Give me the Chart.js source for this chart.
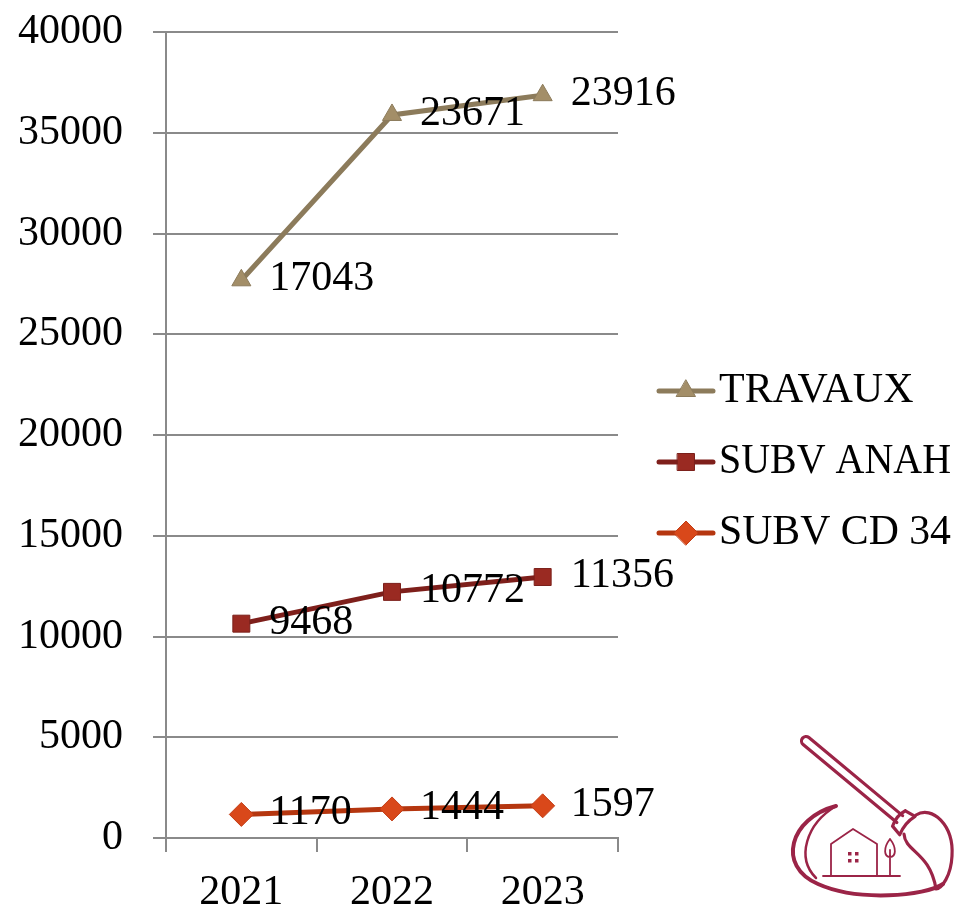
<!DOCTYPE html>
<html>
<head>
<meta charset="utf-8">
<script src="https://cdn.jsdelivr.net/npm/chart.js@4/dist/chart.umd.min.js"></script>
<style>
html,body{margin:0;padding:0;background:#fff;}
#wrap{width:957px;height:907px;}
</style>
</head>
<body>
<div id="wrap"><canvas id="c" width="957" height="907"></canvas></div>
<script>
// ---- data ----
const categories = ['2021', '2022', '2023'];
const seriesNames = ['SUBV CD 34', 'SUBV ANAH', 'TRAVAUX'];
const subvCd34 = [1170, 1444, 1597];
const subvAnah = [9468, 10772, 11356];
const travaux = [17043, 23671, 23916];
const yMin = 0, yMax = 40000, yStep = 5000;

const FONT = "'Liberation Serif', 'Times New Roman', serif";

const styles = [
  {line:'#b5360f', fill:'#d9481a', border:'#c23d16', point:'rectRot', r:12},
  {line:'#7e1f1b', fill:'#9a2a22', border:'#7b201b', point:'rect', r:12},
  {line:'#8c7b5b', fill:'#a38e68', border:'#8c7b5b', point:'triangle', r:11}
];
const values = [subvCd34, subvAnah, travaux];

const datasets = values.map((v, i) => ({
  label: seriesNames[i],
  data: v,
  borderColor: styles[i].line,
  borderWidth: 5,
  backgroundColor: styles[i].fill,
  pointStyle: styles[i].point,
  pointRadius: styles[i].r,
  pointHoverRadius: styles[i].r,
  pointBackgroundColor: styles[i].fill,
  pointBorderColor: styles[i].border,
  pointBorderWidth: 1,
  fill: false,
  tension: 0
}));

const valueLabels = {
  id: 'valueLabels',
  afterDatasetsDraw(chart) {
    const ctx = chart.ctx;
    ctx.save();
    ctx.font = '42px ' + FONT;
    ctx.fillStyle = '#000';
    ctx.textAlign = 'left';
    ctx.textBaseline = 'middle';
    chart.data.datasets.forEach((ds, di) => {
      const meta = chart.getDatasetMeta(di);
      meta.data.forEach((pt, i) => {
        ctx.fillText(String(ds.data[i]), pt.x + 28, pt.y - 1);
      });
    });
    ctx.restore();
  }
};

const customLegend = {
  id: 'customLegend',
  afterDraw(chart) {
    const ctx = chart.ctx;
    const n = chart.data.datasets.length;
    ctx.save();
    for (let k = 0; k < n; k++) {
      const di = n - 1 - k;
      const ds = chart.data.datasets[di];
      const y = 391 + k * 71;
      ctx.strokeStyle = ds.borderColor;
      ctx.lineWidth = 5;
      ctx.lineCap = 'round';
      ctx.beginPath();
      ctx.moveTo(659, y);
      ctx.lineTo(713, y);
      ctx.stroke();
      ctx.fillStyle = ds.pointBackgroundColor;
      ctx.strokeStyle = ds.pointBorderColor;
      ctx.lineWidth = 1;
      Chart.helpers.drawPoint(ctx, {pointStyle: ds.pointStyle, radius: ds.pointRadius, borderWidth: 1, rotation: 0}, 686, y);
      ctx.fillStyle = '#000';
      ctx.font = '42px ' + FONT;
      ctx.textAlign = 'left';
      ctx.textBaseline = 'middle';
      ctx.fillText(ds.label, 719, y, 232);
    }
    ctx.restore();
  }
};

const logo = {
  id: 'logo',
  afterDraw(chart) {
    const ctx = chart.ctx;
    ctx.save();
    const col = '#9b2447';
    ctx.strokeStyle = col;
    ctx.fillStyle = col;
    ctx.lineCap = 'round';
    ctx.lineJoin = 'round';
    // brush handle (rotated frame)
    ctx.save();
    ctx.translate(806, 741);
    ctx.rotate(Math.atan2(80, 96));
    ctx.lineWidth = 3.2;
    ctx.beginPath();
    ctx.moveTo(122, -4.5);
    ctx.lineTo(0, -4.5);
    ctx.arc(0, 0, 4.5, -Math.PI / 2, Math.PI / 2, true);
    ctx.lineTo(122, 4.5);
    ctx.stroke();
    // ferrule
    ctx.beginPath();
    ctx.moveTo(121, -10);
    ctx.quadraticCurveTo(117, 0, 121, 10);
    ctx.moveTo(132, -12);
    ctx.quadraticCurveTo(128, 0, 132, 12);
    ctx.moveTo(121, -10); ctx.lineTo(132, -12);
    ctx.moveTo(121, 10); ctx.lineTo(132, 12);
    ctx.stroke();
    ctx.restore();
    // brush head
    ctx.lineWidth = 3.2;
    ctx.beginPath();
    ctx.moveTo(916, 815);
    ctx.bezierCurveTo(932, 805, 954, 825, 952, 856);
    ctx.bezierCurveTo(951, 876, 942, 888, 936, 889);
    ctx.moveTo(904, 834);
    ctx.bezierCurveTo(905, 852, 930, 852, 936, 889);
    ctx.stroke();
    // swoosh
    ctx.lineWidth = 4;
    ctx.beginPath();
    ctx.moveTo(836, 806);
    ctx.bezierCurveTo(790, 818, 776, 866, 818, 884);
    ctx.bezierCurveTo(858, 902, 925, 896, 943, 884);
    ctx.stroke();
    ctx.lineWidth = 2.5;
    ctx.beginPath();
    ctx.moveTo(836, 806);
    ctx.bezierCurveTo(806, 824, 796, 858, 816, 878);
    ctx.stroke();
    // house
    ctx.lineWidth = 1.8;
    ctx.beginPath();
    ctx.moveTo(831, 876);
    ctx.lineTo(831, 844);
    ctx.lineTo(853, 829);
    ctx.lineTo(877, 844);
    ctx.lineTo(877, 876);
    ctx.moveTo(823, 876);
    ctx.lineTo(900, 876);
    ctx.stroke();
    ctx.fillRect(848, 852, 3.5, 3.5);
    ctx.fillRect(855, 852, 3.5, 3.5);
    ctx.fillRect(848, 859, 3.5, 3.5);
    ctx.fillRect(855, 859, 3.5, 3.5);
    // tree
    ctx.beginPath();
    ctx.moveTo(890, 876);
    ctx.lineTo(890, 850);
    ctx.moveTo(890, 839);
    ctx.bezierCurveTo(883, 848, 884, 857, 890, 857);
    ctx.bezierCurveTo(896, 857, 897, 848, 890, 839);
    ctx.stroke();
    ctx.restore();
  }
};

new Chart(document.getElementById('c'), {
  type: 'line',
  data: { labels: categories, datasets: datasets },
  options: {
    responsive: false,
    animation: false,
    events: [],
    layout: { padding: { left: 0, right: 339, top: 0, bottom: 0 } },
    plugins: { legend: { display: false }, tooltip: { enabled: false } },
    scales: {
      x: {
        offset: true,
        grid: { display: true, offset: true, drawOnChartArea: false, drawTicks: true, tickLength: 14, color: '#8a8a8a', lineWidth: 2 },
        border: { display: true, color: '#8a8a8a', width: 2 },
        ticks: { color: '#000', font: { family: FONT, size: 42 }, padding: 16, maxRotation: 0 },
        afterFit(s) { s.height = 69; }
      },
      y: {
        stacked: true,
        min: yMin, max: yMax,
        ticks: { stepSize: yStep, color: '#000', font: { family: FONT, size: 42, lineHeight: 0.1 }, padding: 30,
                 callback: (v) => String(v) },
        grid: { color: '#8a8a8a', lineWidth: 2, tickLength: 13 },
        border: { display: true, color: '#8a8a8a', width: 2 },
        afterFit(s) { s.width = 166; }
      }
    }
  },
  plugins: [valueLabels, customLegend, logo]
});
</script>
</body>
</html>
